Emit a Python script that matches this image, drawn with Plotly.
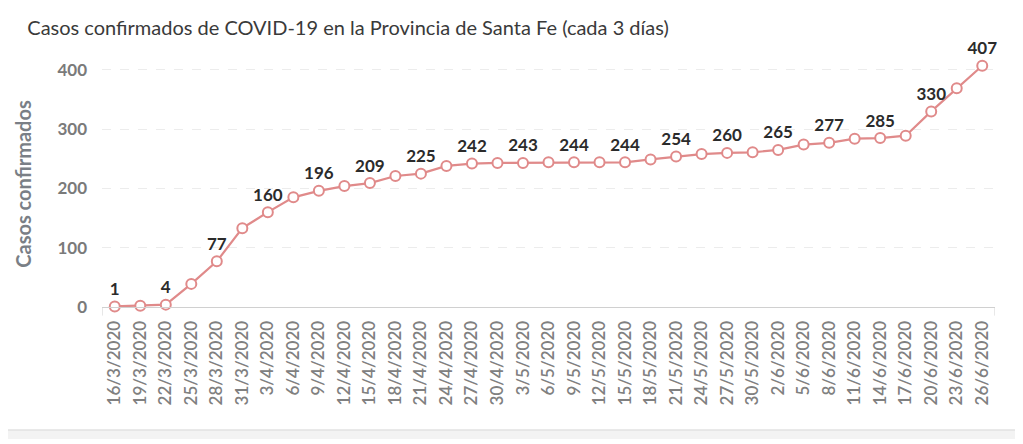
import plotly.graph_objects as go

dates = ["16/3/2020", "19/3/2020", "22/3/2020", "25/3/2020", "28/3/2020", "31/3/2020",
         "3/4/2020", "6/4/2020", "9/4/2020", "12/4/2020", "15/4/2020", "18/4/2020",
         "21/4/2020", "24/4/2020", "27/4/2020", "30/4/2020", "3/5/2020", "6/5/2020",
         "9/5/2020", "12/5/2020", "15/5/2020", "18/5/2020", "21/5/2020", "24/5/2020",
         "27/5/2020", "30/5/2020", "2/6/2020", "5/6/2020", "8/6/2020", "11/6/2020",
         "14/6/2020", "17/6/2020", "20/6/2020", "23/6/2020", "26/6/2020"]
cases = [1, 2, 4, 39, 77, 133, 160, 185, 196, 204, 209, 221, 225, 238, 242, 243, 243, 244,
         244, 244, 244, 249, 254, 258, 260, 261, 265, 274, 277, 284, 285, 289, 330, 369, 407]
labeled = [True if i % 2 == 0 else False for i in range(len(cases))]
labels = [str(v) if show else "" for v, show in zip(cases, labeled)]
yticks = [0, 100, 200, 300, 400]

fig = go.Figure()
fig.add_trace(go.Scatter(
    x=dates, y=cases, mode="lines+markers+text",
    text=labels, textposition="top center",
    textfont=dict(family="Lato", size=17, color="#2b2b2b", weight=700),
    line=dict(color="#e08a8a", width=2.2),
    marker=dict(symbol="circle", size=10, color="white",
                line=dict(color="#e08a8a", width=2)),
    cliponaxis=False, hoverinfo="x+y",
))

# small end ticks of the category axis
for xe in (-0.5, len(dates) - 0.5):
    fig.add_shape(type="line", xref="x", yref="y domain", x0=xe, x1=xe, y0=0, y1=-0.035,
                  line=dict(color="#d0d0d0", width=1))
# page separator at the bottom
fig.add_shape(type="rect", xref="paper", yref="paper", x0=-0.2, x1=1.2,
              y0=-0.5, y1=-0.537, line=dict(width=0), fillcolor="#f3f3f3", layer="below")
fig.add_shape(type="line", xref="paper", yref="paper", x0=-0.2, x1=1.2,
              y0=-0.5, y1=-0.5, line=dict(color="#e2e2e2", width=1.5))

fig.update_layout(
    width=1015, height=436,
    margin=dict(l=94, r=28, t=53, b=137, autoexpand=False),
    paper_bgcolor="white", plot_bgcolor="white",
    showlegend=False,
    title=dict(text="Casos confirmados de COVID-19 en la Provincia de Santa Fe (cada 3 días)",
               x=0.019, xanchor="left", y=0.954, yanchor="middle",
               font=dict(family="Lato", size=20, color="#3a3a3a")),
    font=dict(family="Lato"),
)
fig.update_xaxes(
    type="category", range=[-0.5, len(dates) - 0.5], tickangle=-90, automargin=False,
    tickfont=dict(family="Lato", size=17, color="#808080", weight=600),
    showgrid=False, showline=True, linecolor="#d0d0d0", linewidth=1,
    ticks="", zeroline=False, ticklabelstandoff=6,
)
fig.update_yaxes(
    range=[0, 415], tickvals=yticks, automargin=False,
    tickfont=dict(family="Lato", size=17, color="#7a7a7a", weight=700),
    showgrid=True, gridcolor="#ececec", griddash="dash", gridwidth=1,
    zeroline=False, showline=False, ticks="", ticklabelstandoff=14,
    title=dict(text="Casos confirmados", standoff=20,
               font=dict(family="Lato", size=20, color="#7a7f86", weight=700)),
)

fig.write_html("out.html")
